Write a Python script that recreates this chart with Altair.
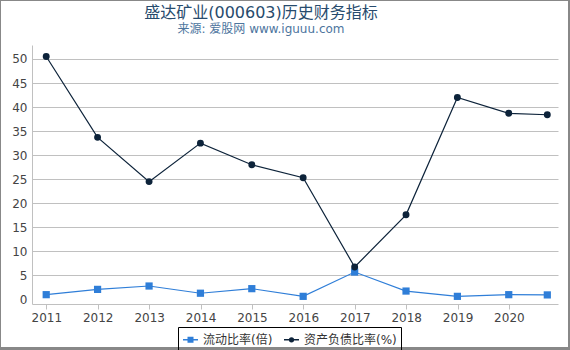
import altair as alt
import pandas as pd

# ---- data ----
dates = ["2010-12-31", "2011-12-31", "2012-12-31", "2013-12-31", "2014-12-31",
         "2015-12-31", "2016-12-31", "2017-12-31", "2018-12-31", "2019-12-31",
         "2020-09-30"]
current_ratio = [1.0, 2.1, 2.8, 1.3, 2.25, 0.65, 5.7, 1.75, 0.65, 1.0, 0.95]
debt_ratio = [50.5, 33.7, 24.5, 32.5, 28.0, 25.3, 6.75, 17.6, 42.0, 38.7, 38.4]

series_names = ["流动比率(倍)", "资产负债比率(%)"]
series_colors = ["#2f7ed8", "#0d233a"]
series_shapes = ["square", "circle"]
legend_paths = [
    "M-1,0L1,0M-0.3,-0.3L0.3,-0.3L0.3,0.3L-0.3,0.3Z",
    "M-1,0L1,0M-0.25,0A0.25,0.25,0,1,1,0.25,0A0.25,0.25,0,1,1,-0.25,0Z",
]
title_text = "盛达矿业(000603)历史财务指标"
subtitle_text = "来源: 爱股网 www.iguuu.com"

rows = []
for vals, name, col, shp in zip([current_ratio, debt_ratio], series_names,
                                series_colors, series_shapes):
    for d, v in zip(dates, vals):
        rows.append({"date": d, "value": v, "series": name, "c": col, "shp": shp})
df = pd.DataFrame(rows)

FONT = "DejaVu Sans, Noto Sans CJK SC"
W, H = 526, 259
PL, PT = 32, 45

xscale = alt.Scale(type="utc", domain=[
    alt.DateTime(year=2010, month=9, date=21, utc=True),
    alt.DateTime(year=2020, month=12, date=15, utc=True)])
yscale = alt.Scale(domain=[-0.94, 52.9], nice=False, zero=False)

x_enc = alt.X("date:T", scale=xscale, title=None,
              axis=alt.Axis(format="%Y", tickCount="year", tickSize=5,
                            tickColor="#c0c0c0", domainColor="#c0c0c0",
                            labelFontSize=12, labelColor="#444", labelFont=FONT,
                            labelPadding=3, grid=False, labelOverlap=False))
y_enc = alt.Y("value:Q", scale=yscale, title=None,
              axis=alt.Axis(values=list(range(0, 51, 5)), ticks=False,
                            domainColor="#c0c0c0", labelFontSize=12,
                            labelColor="#444", labelFont=FONT, labelPadding=5,
                            grid=True,
                            gridColor={"condition": {"test": "datum.value == 0",
                                                     "value": "transparent"},
                                       "value": "#c0c0c0"}))

base = alt.Chart(df)

lines = base.mark_line(strokeWidth=1.2).encode(
    x=x_enc, y=y_enc,
    color=alt.Color("c:N", scale=None),
    detail="series:N",
)

points = base.mark_point(filled=True, opacity=1).encode(
    x=x_enc, y=y_enc,
    color=alt.Color("c:N", scale=None),
    shape=alt.Shape("shp:N", scale=None),
    size=alt.condition("datum.shp == 'square'", alt.value(52), alt.value(48)),
)

leg_scale_c = alt.Scale(domain=series_names, range=series_colors)
leg_scale_s = alt.Scale(domain=series_names, range=legend_paths)
legend = alt.Legend(orient="none", legendX=146, legendY=282,
                    direction="horizontal", title=None, strokeColor="black",
                    padding=4, symbolSize=225, symbolStrokeWidth=1.5,
                    labelFontSize=12, labelColor="#333", labelFont=FONT,
                    columnPadding=8, labelOffset=4, symbolOpacity=1,
                    cornerRadius=0)

legend_layer = base.mark_point(filled=True).encode(
    x=x_enc, y=y_enc,
    color=alt.Color("series:N", scale=leg_scale_c, legend=legend),
    stroke=alt.Stroke("series:N", scale=leg_scale_c, legend=legend),
    shape=alt.Shape("series:N", scale=leg_scale_s, legend=legend),
).transform_filter("false")

one = alt.Chart(pd.DataFrame({"k": [0]}))
frame_top = one.mark_rule(color="#888", strokeWidth=1).encode(
    x=alt.value(-PL), x2=alt.value(570 - PL), y=alt.value(0.5 - PT))
frame_left = one.mark_rule(color="#888", strokeWidth=1).encode(
    x=alt.value(0.5 - PL), y=alt.value(-PT), y2=alt.value(350 - PT))
frame_right = one.mark_rule(color="#888", strokeWidth=2).encode(
    x=alt.value(569 - PL), y=alt.value(-PT), y2=alt.value(350 - PT))
frame_bottom = one.mark_rule(color="#888", strokeWidth=3).encode(
    x=alt.value(-PL), x2=alt.value(570 - PL), y=alt.value(348.5 - PT))

title_mark = one.mark_text(fontSize=16, color="#274b6d", font=FONT,
                           align="center", baseline="alphabetic").encode(
    x=alt.value(261 - PL), y=alt.value(17.5 - PT), text=alt.value(title_text))
subtitle_mark = one.mark_text(fontSize=12, color="#4d759e", font=FONT,
                              align="center", baseline="alphabetic").encode(
    x=alt.value(261 - PL), y=alt.value(33 - PT), text=alt.value(subtitle_text))

chart = alt.layer(
    lines, points, legend_layer,
    frame_top, frame_left, frame_right, frame_bottom,
    title_mark, subtitle_mark,
).properties(
    width=W, height=H,
    autosize=alt.AutoSizeParams(type="none"),
    padding={"left": PL, "top": PT, "right": 570 - PL - W, "bottom": 350 - PT - H},
).configure_view(stroke=None)

chart.save("out.html", embed_options={"renderer": "svg", "actions": False})
